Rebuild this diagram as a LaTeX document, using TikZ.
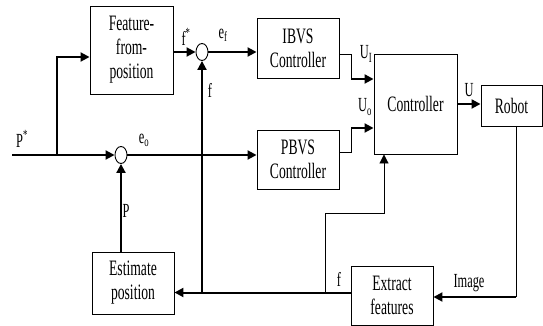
\documentclass[tikz,border=0pt]{standalone}
\usepackage{fontspec}
\setmainfont[FakeStretch=0.62]{Liberation Serif}
\usetikzlibrary{arrows.meta,shapes.geometric}
\begin{document}
\begin{tikzpicture}[x=1pt,y=-1pt,
  blk/.style={draw,line width=0.9pt,inner sep=0pt,align=center,font=\fontsize{22}{24}\selectfont},
  sumj/.style={draw,line width=0.9pt,ellipse,minimum width=12pt,minimum height=17pt,inner sep=0pt,fill=white},
  thk/.style={line width=2pt},
  thn/.style={line width=0.9pt},
  arr/.style={-{Triangle[length=9pt,width=9pt]}},
  lbl/.style={inner sep=0pt,font=\fontsize{20}{20}\selectfont}]
\useasboundingbox (0,0) rectangle (543,326);
% blocks
\node[blk,minimum width=83pt,minimum height=88pt] (ffp) at (131.5,50) {Feature-\\from-\\position};
\node[blk,minimum width=82pt,minimum height=60pt] (ibvs) at (298,48) {IBVS\\Controller};
\node[blk,minimum width=82pt,minimum height=59pt] (pbvs) at (298,159.5) {PBVS\\Controller};
\node[blk,minimum width=83pt,minimum height=100pt] (ctrl) at (415.5,104) {Controller};
\node[blk,minimum width=61pt,minimum height=41pt] (robot) at (511.5,105.5) {Robot};
\node[blk,minimum width=82pt,minimum height=59pt] (extr) at (392,295.5) {Extract\\features};
\node[blk,minimum width=82pt,minimum height=62pt] (est) at (133,283) {Estimate\\position};
% summing junctions
\node[sumj] (s1) at (202,52) {};
\node[sumj] (s2) at (121,155) {};
% helper coordinates
\coordinate (pin) at (12,155);
\coordinate (br) at (57,155);
\coordinate (brt) at (57,57);
\coordinate (ffpo) at (173,52);
\coordinate (ibo) at (339,54);
\coordinate (ibk) at (351,54);
\coordinate (ibk2) at (351,79);
\coordinate (pbo) at (339,152);
\coordinate (pbk) at (351,152);
\coordinate (pbk2) at (351,128);
\coordinate (rbd) at (516,126);
\coordinate (rbk) at (516,297);
\coordinate (fb1) at (202,292.5);
\coordinate (fb2) at (325,292.5);
\coordinate (fb3) at (325,213);
\coordinate (fb4) at (384,213);
\coordinate (esto) at (121,252);
% connectors
\draw[thk,arr] (pin) -- (s2.west);
\draw[thk,arr] (br) -- (brt) -- (brt -| ffp.west);
\draw[thk,arr] (ffpo) -- (s1.west);
\draw[thk,arr] (s1.east) -- (s1.east -| ibvs.west);
\draw[thk,arr] (s2.east) -- (s2.east -| pbvs.west);
\draw[thn] (ibo) -- (ibk) -- (ibk2);
\draw[thk,arr] (ibk2) -- (ibk2 -| ctrl.west);
\draw[thn] (pbo) -- (pbk) -- (pbk2);
\draw[thk,arr] (pbk2) -- (pbk2 -| ctrl.west);
\draw[thk,arr] (ctrl.east) -- (ctrl.east -| robot.west);
\draw[thn] (rbd) -- (rbk);
\draw[thk,arr] (rbk) -- (rbk -| extr.east);
\draw[thk,arr] (fb1 -| extr.west) -- (fb1 -| est.east);
\draw[thk,arr] (fb1) -- (s1.south);
\draw[thn,arr] (fb2) -- (fb3) -- (fb4) -- (fb4 |- ctrl.south);
\draw[thk,arr] (esto) -- (s2.south);
% labels
\node[lbl] (lp) at (22,139) {P\textsuperscript{*}};
\node[lbl] (leo) at (144,140) {e\textsubscript{o}};
\node[lbl] (lfs) at (186,37) {f\textsuperscript{*}};
\node[lbl] (lef) at (223,35) {e\textsubscript{f}};
\node[lbl] (lf1) at (210,90) {f};
\node[lbl] (lpp) at (126,211) {P};
\node[lbl] (lui) at (366,54) {U\textsubscript{I}};
\node[lbl] (luo) at (365,107) {U\textsubscript{o}};
\node[lbl] (lu) at (469,90) {U};
\node[lbl] (limg) at (469,283) {Image};
\node[lbl] (lf2) at (339,279) {f};
\end{tikzpicture}
\end{document}
